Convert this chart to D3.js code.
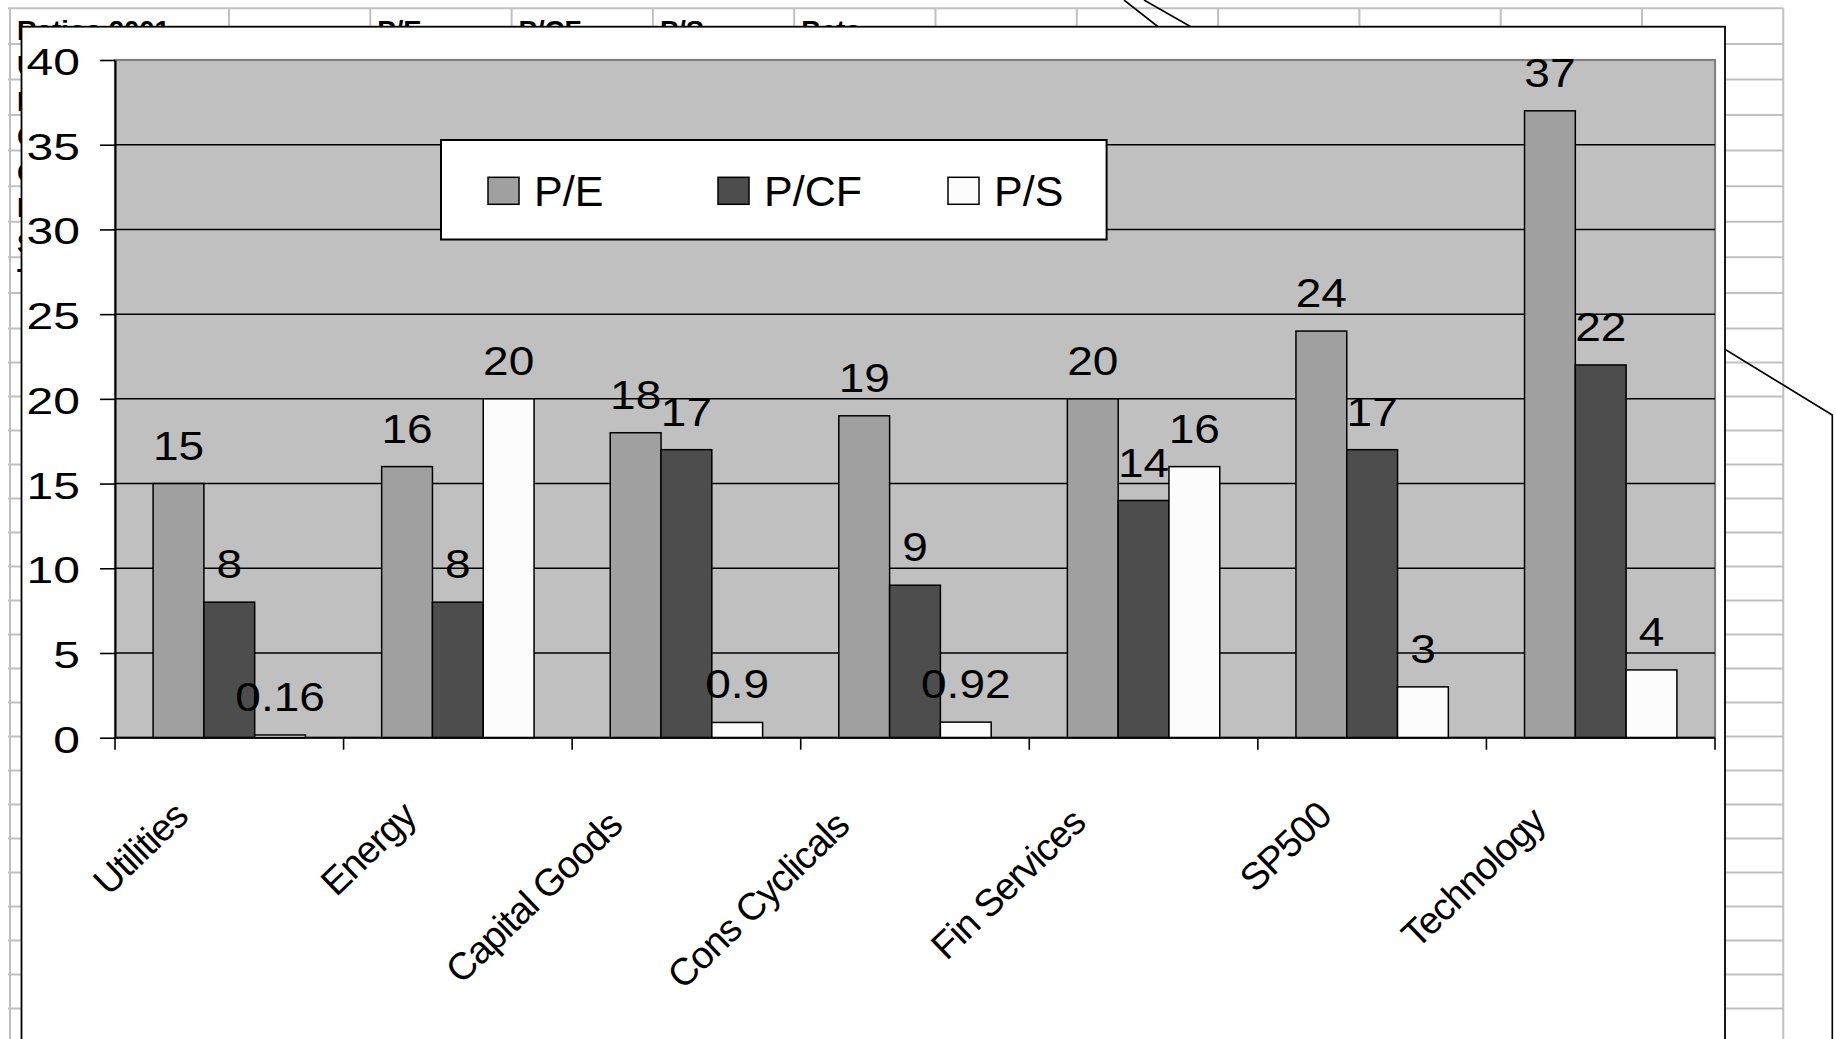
<!DOCTYPE html>
<html><head><meta charset="utf-8">
<script src="https://cdn.jsdelivr.net/npm/d3@7"></script>
<style>html,body{margin:0;padding:0;background:#fff;overflow:hidden}</style>
</head><body>
<svg id="c" width="1836" height="1039"></svg>
<script>
// ---- data ----
const categories = ["Utilities","Energy","Capital Goods","Cons Cyclicals","Fin Services","SP500","Technology"];
const seriesNames = ["P/E","P/CF","P/S"];
const peValues  = [15, 16, 18, 19, 20, 24, 37];
const pcfValues = [8, 8, 17, 9, 14, 17, 22];
const psValues  = [0.16, 20, 0.9, 0.92, 16, 3, 4];
const yTickValues = [0, 5, 10, 15, 20, 25, 30, 35, 40];
const sheetHeaders = ["Ratios 2001", "", "P/E", "P/CF", "P/S", "Beta"];
const sheetRowLabels = categories;

const seriesValues = [peValues, pcfValues, psValues];
const seriesColors = ["#a0a0a0", "#4d4d4d", "#fcfcfc"];
const FONT = "'Liberation Sans', Arial, Helvetica, sans-serif";

const svg = d3.select("#c");

// ---- spreadsheet background ----
const gridLeft = 10, gridRight = 1783.3, gridTop = 8.3;
const colX = d3.range(12).map(k => 229 + k * 141.3);
colX.unshift(gridLeft);
const rowY = [];
for (let k = 0; k <= 9; k++) rowY.push(gridTop + 35.58 * k);
for (let j = 1; rowY[rowY.length - 1] < 1060; j++) rowY.push(rowY[9] + 34 * j);

const bg = svg.append("g");
bg.selectAll("line.h").data(rowY).join("line")
  .attr("x1", gridLeft - 2).attr("x2", gridRight).attr("y1", d => d).attr("y2", d => d)
  .attr("stroke", "#c0c0c0").attr("stroke-width", 2);
bg.selectAll("line.v").data(colX).join("line")
  .attr("x1", d => d).attr("x2", d => d).attr("y1", gridTop).attr("y2", 1039)
  .attr("stroke", "#c0c0c0").attr("stroke-width", 2);

bg.selectAll("text.hdr").data(sheetHeaders).join("text")
  .attr("x", (d, i) => colX[i] + 7).attr("y", rowY[1] - 4.3)
  .attr("font-family", FONT).attr("font-weight", "bold").attr("font-size", 27.5)
  .text(d => d);
bg.selectAll("text.row").data(sheetRowLabels).join("text")
  .attr("x", colX[0] + 7).attr("y", (d, i) => rowY[i + 2] - 4.5)
  .attr("font-family", FONT).attr("font-weight", "bold").attr("font-size", 27.5)
  .text(d => d);

// drawing lines behind the chart
const drawLines = [
  [[1124, 0], [1175, 40]],
  [[1144, 0], [1214, 40]],
  [[1690, 327.9], [1832.3, 415], [1832.3, 1045]]
];
bg.selectAll("path.dl").data(drawLines).join("path")
  .attr("d", d => d3.line()(d)).attr("fill", "none")
  .attr("stroke", "#000").attr("stroke-width", 1.6);

// ---- chart box (bottom edge lies just below the visible area) ----
const box = {x: 21.5, y: 26.7, w: 1703.5, h: 1030};
svg.append("rect").attr("x", box.x).attr("y", box.y).attr("width", box.w).attr("height", box.h)
  .attr("fill", "#fff").attr("stroke", "#000").attr("stroke-width", 1.8);

const plot = {left: 115, right: 1715, top: 60, bottom: 737.7};

const x0 = d3.scaleBand().domain(categories).range([plot.left, plot.right]).paddingInner(0).paddingOuter(0);
const x1 = d3.scaleBand().domain(seriesNames).range([0, x0.bandwidth()]).paddingInner(0).paddingOuter(0.75);
const y = d3.scaleLinear().domain([0, 40]).range([plot.bottom, plot.top]);

// plot background
svg.append("rect").attr("x", plot.left).attr("y", plot.top)
  .attr("width", plot.right - plot.left).attr("height", plot.bottom - plot.top)
  .attr("fill", "#c0c0c0").attr("stroke", "#808080").attr("stroke-width", 2.2);

// gridlines
svg.append("g").selectAll("line").data(yTickValues.filter(v => v > 0 && v < 40)).join("line")
  .attr("x1", plot.left).attr("x2", plot.right).attr("y1", d => y(d)).attr("y2", d => y(d))
  .attr("stroke", "#000").attr("stroke-width", 1.5);

// bars
const barData = [];
categories.forEach((c, ci) => seriesNames.forEach((s, si) => barData.push({c, s, si, v: seriesValues[si][ci]})));
const bars = svg.append("g");
bars.selectAll("rect").data(barData).join("rect")
  .attr("x", d => x0(d.c) + x1(d.s)).attr("width", x1.bandwidth())
  .attr("y", d => y(d.v)).attr("height", d => y(0) - y(d.v))
  .attr("fill", d => seriesColors[d.si]).attr("stroke", "#000").attr("stroke-width", 1.5);

// value labels
bars.selectAll("text").data(barData).join("text")
  .attr("transform", d => `translate(${x0(d.c) + x1(d.s) + x1.bandwidth() / 2},${y(d.v) - 24}) scale(1.15,1)`)
  .attr("text-anchor", "middle").attr("font-family", FONT).attr("font-size", 40).attr("fill", "#000")
  .text(d => String(d.v));

// y axis
const yAxis = svg.append("g").attr("transform", `translate(${plot.left},0)`)
  .call(d3.axisLeft(y).tickValues(yTickValues).tickSize(15).tickSizeOuter(0));
yAxis.select(".domain").attr("stroke", "#000").attr("stroke-width", 2);
yAxis.selectAll(".tick line").attr("stroke", "#000").attr("stroke-width", 1.6);
yAxis.selectAll(".tick text")
  .attr("x", 0).attr("dy", null).attr("y", 14.5)
  .attr("transform", "translate(-35,0) scale(1.28,1)")
  .attr("font-family", FONT).attr("font-size", 37.5).attr("fill", "#000");

// x axis line + ticks at category boundaries
const xa = svg.append("g");
xa.append("line").attr("x1", plot.left).attr("x2", plot.right).attr("y1", plot.bottom).attr("y2", plot.bottom)
  .attr("stroke", "#000").attr("stroke-width", 2);
const boundaries = categories.map(c => x0(c)).concat([x0.range()[1]]);
xa.selectAll("line.t").data(boundaries).join("line")
  .attr("x1", d => d).attr("x2", d => d).attr("y1", plot.bottom).attr("y2", plot.bottom + 12)
  .attr("stroke", "#000").attr("stroke-width", 1.6);

// category labels (rotated)
const cl = xa.selectAll("text").data(categories).join("text")
  .attr("text-anchor", "end").attr("font-family", FONT).attr("font-size", 38)
  .attr("letter-spacing", "-1.1px").attr("fill", "#000")
  .text(d => d);
cl.each(function(d) {
  const L = this.getComputedTextLength();
  const cx = x0(d) + x0.bandwidth() / 2;
  d3.select(this).attr("transform", `translate(${cx - 17 - 0.2 * L},${plot.bottom + 72 + 0.08 * L}) rotate(-44)`);
});

// legend
const lg = {x: 441, y: 140, w: 665.6, h: 99.5};
const legend = svg.append("g");
legend.append("rect").attr("x", lg.x).attr("y", lg.y).attr("width", lg.w).attr("height", lg.h)
  .attr("fill", "#fff").attr("stroke", "#000").attr("stroke-width", 2);
const li = legend.selectAll("g.item").data(seriesNames).join("g")
  .attr("transform", (d, i) => `translate(${lg.x + 47 + 230 * i},0)`);
li.append("rect").attr("x", 0).attr("y", 177.3).attr("width", 31).attr("height", 27)
  .attr("fill", (d, i) => seriesColors[i]).attr("stroke", "#000").attr("stroke-width", 1.5);
li.append("text").attr("x", 46).attr("y", 205.5)
  .attr("font-family", FONT).attr("font-size", 43).attr("fill", "#000").text(d => d);
</script>
</body></html>
